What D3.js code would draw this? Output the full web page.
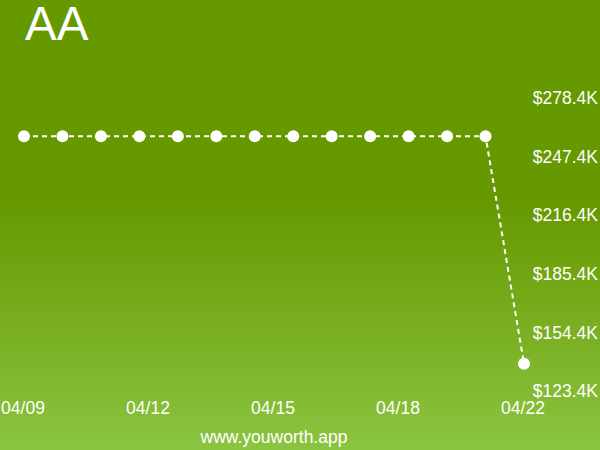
<!DOCTYPE html>
<html>
<head>
<meta charset="utf-8">
<script src="https://cdn.jsdelivr.net/npm/d3@7"></script>
<style>
  html, body { margin: 0; padding: 0; background: #fff; }
  svg { display: block; font-family: "Liberation Sans", Arial, sans-serif; }
</style>
</head>
<body>
<div id="chart"></div>
<script>
"use strict";
const title = "AA";
const dates = ["04/09", "04/10", "04/11", "04/12", "04/13", "04/14", "04/15",
               "04/16", "04/17", "04/18", "04/19", "04/20", "04/21", "04/22"];
const values = [258.2, 258.2, 258.2, 258.2, 258.2, 258.2, 258.2,
                258.2, 258.2, 258.2, 258.2, 258.2, 258.2, 137.8];
const xTickLabels = ["04/09", "04/12", "04/15", "04/18", "04/22"];
const yTicks = [123.4, 154.4, 185.4, 216.4, 247.4, 278.4];
const footer = "www.youworth.app";

const width = 600;
const height = 450;

const svg = d3.select("#chart")
    .append("svg")
    .attr("width", width)
    .attr("height", height);

const grad = svg.append("defs")
    .append("linearGradient")
    .attr("id", "bg")
    .attr("x1", 0).attr("y1", 0)
    .attr("x2", 0).attr("y2", 1);
grad.append("stop").attr("offset", "0%").attr("stop-color", "#669900");
grad.append("stop").attr("offset", "45%").attr("stop-color", "#669900");
grad.append("stop").attr("offset", "100%").attr("stop-color", "#8bc441");

svg.append("rect")
    .attr("width", width)
    .attr("height", height)
    .attr("fill", "url(#bg)");

const x = d3.scalePoint()
    .domain(dates)
    .range([24, 524]);

// the date labels sit evenly spaced, not on their own day
const xLabel = d3.scalePoint()
    .domain(xTickLabels)
    .range([23, 523]);

const y = d3.scaleLinear()
    .domain([123.4, 278.4])
    .range([391, 98]);

svg.append("text")
    .attr("x", 25)
    .attr("y", 39.5)
    .attr("fill", "#fff")
    .style("font-size", "47.5px")
    .text(title);

// y labels on the right
svg.append("g")
    .selectAll("text")
    .data(yTicks)
    .enter()
    .append("text")
    .attr("x", 598)
    .attr("y", d => y(d))
    .attr("dy", "0.35em")
    .attr("text-anchor", "end")
    .attr("fill", "#fff")
    .style("font-size", "17.5px")
    .text(d => `$${d.toFixed(1)}K`);

// x labels
svg.append("g")
    .selectAll("text")
    .data(xTickLabels)
    .enter()
    .append("text")
    .attr("x", d => xLabel(d))
    .attr("y", 414)
    .attr("text-anchor", "middle")
    .attr("fill", "#fff")
    .style("font-size", "17.5px")
    .text(d => d);

const line = d3.line()
    .x((d, i) => x(dates[i]))
    .y(d => y(d));

svg.append("path")
    .datum(values)
    .attr("d", line)
    .attr("fill", "none")
    .attr("stroke", "#fff")
    .attr("stroke-width", 2)
    .attr("stroke-dasharray", "5,4");

svg.append("g")
    .selectAll("circle")
    .data(values)
    .enter()
    .append("circle")
    .attr("cx", (d, i) => x(dates[i]))
    .attr("cy", d => y(d))
    .attr("r", 6)
    .attr("fill", "#fff");

svg.append("text")
    .attr("x", 274)
    .attr("y", 443)
    .attr("text-anchor", "middle")
    .attr("fill", "#fff")
    .style("font-size", "17.5px")
    .text(footer);
</script>
</body>
</html>
